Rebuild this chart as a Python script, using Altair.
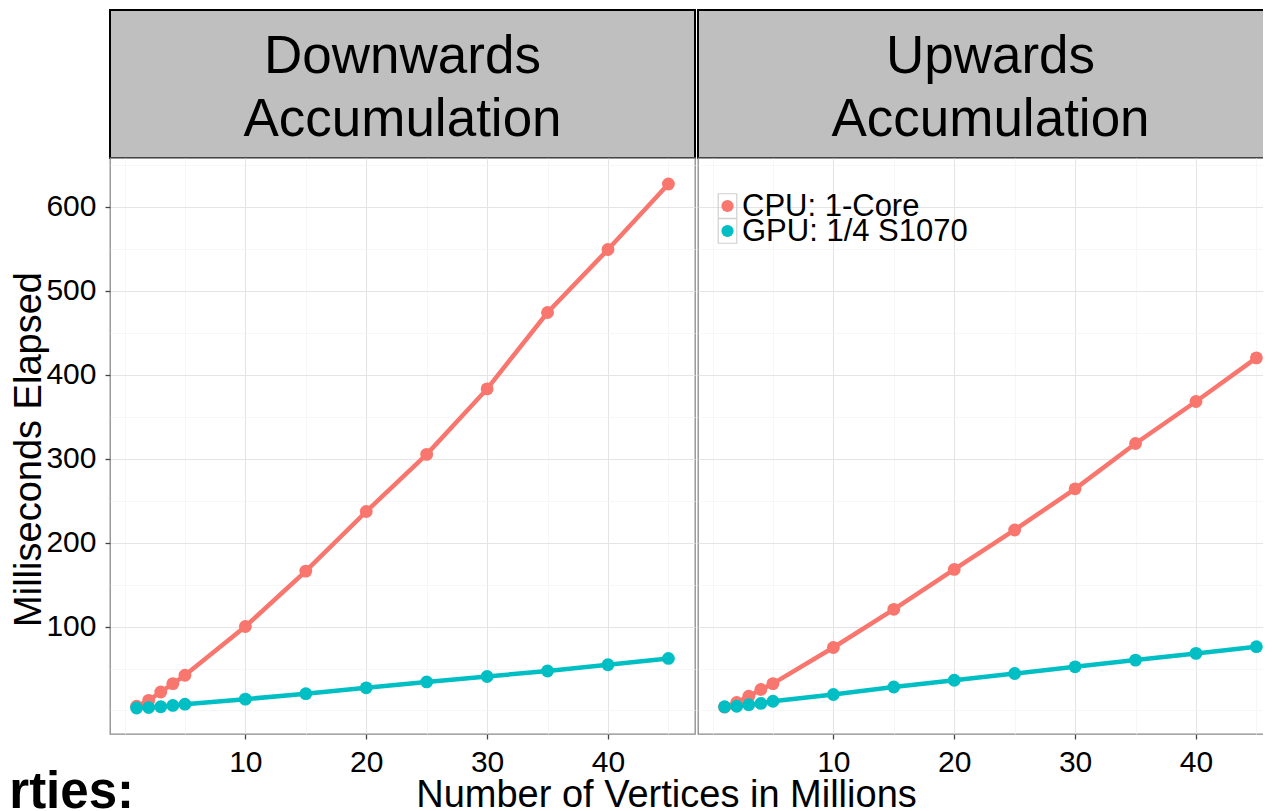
import altair as alt
import pandas as pd

# ---- data ----
vertices = [1, 2, 3, 4, 5, 10, 15, 20, 25, 30, 35, 40, 45]
down_cpu = [5, 12, 22, 32, 42, 100, 166, 237, 305, 383, 474, 549, 627]
down_gpu = [3, 3.5, 4.5, 6, 7.5, 13.5, 20, 27, 34, 40.5, 47, 54.5, 62]
up_cpu = [4, 9.5, 17, 25, 32, 75, 120.5, 168, 215, 264, 318, 368, 420]
up_gpu = [4.5, 5, 6.8, 8.4, 11, 19, 28, 36, 44, 52, 60, 68, 76]

series_names = ["CPU: 1-Core", "GPU: 1/4 S1070"]
series_colors = ["#F8766D", "#00BFC4"]
panel_titles = [["Downwards", "Accumulation"], ["Upwards", "Accumulation"]]
x_values = [0, 5, 10, 15, 20, 25, 30, 35, 40, 45]
y_values = [0, 50, 100, 150, 200, 250, 300, 350, 400, 450, 500, 550, 600, 650]
x_title = "Number of Vertices in Millions"
y_title = "Milliseconds Elapsed"
footer_text = ["rties:"]

FONT = "Liberation Sans"
W = 585          # left panel width
W_R = 573        # right panel runs past the picture's right edge
H = 576
STRIP_H = 148
X_MIN, X_MAX = -1.2, 47.2
X_MAX_R = X_MIN + (X_MAX - X_MIN) * W_R / W

x_major = "datum.value % 10 === 0 && datum.value > 0"
y_major = "datum.value % 100 === 0 && datum.value > 0"


def long_df(cpu, gpu):
    rows = []
    for name, vals in zip(series_names, [cpu, gpu]):
        for xv, yv in zip(vertices, vals):
            rows.append({"x": xv, "y": yv, "series": name})
    return pd.DataFrame(rows)


color_scale = alt.Scale(domain=series_names, range=series_colors)
y_scale = alt.Scale(domain=[-28, 658], nice=False, zero=False)


def x_axis(show_title):
    kw = dict(
        values=x_values,
        labelExpr=f"({x_major}) ? datum.label : ''",
        tickOpacity={"condition": {"test": x_major, "value": 1}, "value": 0},
        gridColor={"condition": {"test": x_major, "value": "#E4E4E4"}, "value": "#F4F4F4"},
        gridWidth={"condition": {"test": x_major, "value": 1.1}, "value": 0.7},
        tickColor="#444444", tickSize=5, tickWidth=1.3,
        domain=False, labelFontSize=30, labelColor="black", labelFont=FONT,
        labelPadding=8,
    )
    if show_title:
        kw.update(title=x_title, titleFont=FONT, titleFontSize=38, titleFontWeight="normal",
                  titleColor="black", titleX=556, titleY=72, titleAlign="center",
                  titleBaseline="alphabetic")
    else:
        kw.update(title=None)
    return alt.Axis(**kw)


def y_axis(show):
    kw = dict(
        values=y_values,
        gridColor={"condition": {"test": y_major, "value": "#E4E4E4"}, "value": "#F4F4F4"},
        gridWidth={"condition": {"test": y_major, "value": 1.1}, "value": 0.7},
        domain=False,
    )
    if show:
        kw.update(
            labelExpr=f"({y_major}) ? datum.label : ''",
            tickOpacity={"condition": {"test": y_major, "value": 1}, "value": 0},
            tickColor="#444444", tickSize=5, tickWidth=1.3,
            labelFontSize=30, labelColor="black", labelFont=FONT, labelPadding=9,
            title=y_title, titleFont=FONT, titleFontSize=38, titleFontWeight="normal",
            titleColor="black", titleX=-70, titleY=H / 2 + 3, titleAngle=270,
            titleAlign="center", titleBaseline="alphabetic",
        )
    else:
        kw.update(labels=False, ticks=False, title=None)
    return alt.Axis(**kw)


def panel(df, left):
    base = alt.Chart(df)
    width = W if left else W_R
    x_scale = alt.Scale(domain=[X_MIN, X_MAX if left else X_MAX_R], nice=False, zero=False)
    color = alt.Color("series:N", scale=color_scale, legend=None)
    line = base.mark_line(strokeWidth=4.5).encode(
        x=alt.X("x:Q", scale=x_scale, axis=x_axis(left)),
        y=alt.Y("y:Q", scale=y_scale, axis=y_axis(left)),
        color=color,
    )
    pts = base.mark_point(filled=True, size=165, opacity=1).encode(
        x="x:Q", y="y:Q", color=color,
    )
    data_layer = alt.layer(line, pts)
    if left:
        foot = alt.Chart(pd.DataFrame({"t": footer_text})).mark_text(
            font=FONT, fontSize=51, fontWeight="bold", align="right",
            baseline="alphabetic", color="black",
        ).encode(text="t:N", x=alt.value(24), y=alt.value(650))
        out = alt.layer(data_layer, foot)
    else:
        # legend drawn inside the panel (ggplot legend.position inside)
        leg = alt.Chart(pd.DataFrame({"series": series_names}))
        leg_y = alt.Y("series:N",
                      scale=alt.Scale(type="point", domain=series_names, range=[48, 73],
                                      padding=0),
                      axis=None)
        keys = leg.mark_point(
            shape="M-0.76,-1L0.76,-1L0.76,1L-0.76,1Z", size=600, filled=False,
            stroke="#D0D0D0", strokeWidth=1.2, opacity=1,
        ).encode(x=alt.value(29.5), y=leg_y)
        syms = leg.mark_point(filled=True, size=150, opacity=1).encode(
            x=alt.value(29.5), y=leg_y, color=color,
        )
        labs = leg.mark_text(
            font=FONT, fontSize=31, align="left", baseline="middle", color="black", dy=1,
        ).encode(x=alt.value(44), y=leg_y, text="series:N")
        out = alt.layer(data_layer, alt.layer(keys, syms, labs)).resolve_scale(
            y="independent")
    return out.properties(
        width=width, height=H,
        view=alt.ViewBackground(stroke="#8A8A8A", strokeWidth=1.3, fill="white"),
    )


def strip(lines, width):
    return alt.Chart(pd.DataFrame({"k": [0]})).mark_text(
        font=FONT, fontSize=53, align="center", baseline="alphabetic",
        lineHeight=63, color="black",
    ).encode(
        text=alt.value(lines), x=alt.value(W / 2), y=alt.value(63),
    ).properties(
        width=width, height=STRIP_H,
        view=alt.ViewBackground(fill="#BFBFBF", stroke="black", strokeWidth=2),
    )


chart = alt.concat(
    strip(panel_titles[0], W), strip(panel_titles[1], W_R),
    panel(long_df(down_cpu, down_gpu), True), panel(long_df(up_cpu, up_gpu), False),
    columns=2, spacing={"row": 0, "column": 3}, bounds="flush",
).properties(
    # the right panel is cut by the page edge, as in the reference
    padding={"left": 0, "top": 1, "right": -9, "bottom": 0},
    background="white",
)

chart.save("out.html", embed_options={"renderer": "svg", "actions": False})
